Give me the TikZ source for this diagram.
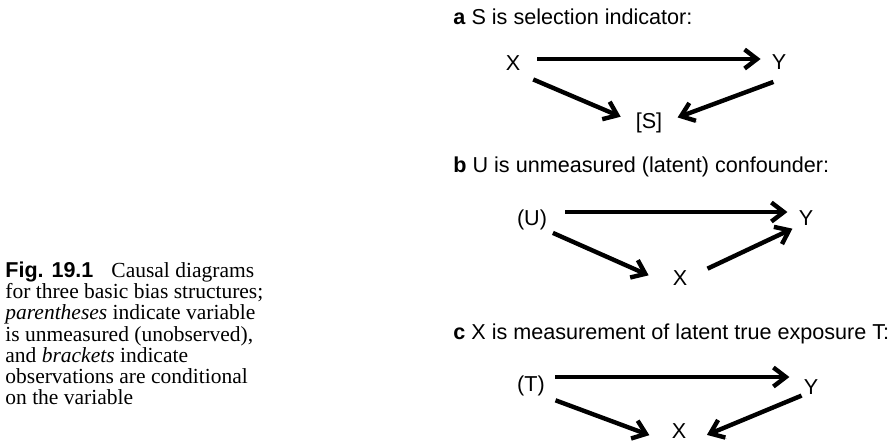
\documentclass[tikz,border=0pt]{standalone}
\usepackage{fontspec}
\setmainfont{Liberation Serif}
\setsansfont{Liberation Sans}
\usepackage{tikz}
\usetikzlibrary{arrows.meta, positioning, calc}

\begin{document}
\begin{tikzpicture}[
    x=0.5pt, y=-0.5pt,
    var/.style={font=\sffamily\fontsize{10.8}{13}\selectfont, inner sep=0pt},
    ttl/.style={font=\sffamily\fontsize{10.8}{13}\selectfont, inner sep=0pt,
                anchor=base west},
    arr/.style={line width=2.2pt, -{Straight Barb[length=6.2pt, width=9.5pt]},
                preaction={draw=black!25, transform canvas={xshift=0.6pt, yshift=-0.6pt}}},
    captxt/.style={font=\fontsize{10.75}{10.6}\selectfont, inner sep=0pt,
                   anchor=north west, align=left}]

\useasboundingbox (0,0) rectangle (893,441);

%% -- Caption ---------------------------------------------------------------
\node[captxt] (caption) at (5,261.5)
    {{\sffamily\bfseries Fig. 19.1}\hspace{9pt}Causal diagrams\\
     for three basic bias structures;\\
     \textit{parentheses} indicate variable\\
     is unmeasured (unobserved),\\
     and \textit{brackets} indicate\\
     observations are conditional\\
     on the variable};

%% -- a: selection ----------------------------------------------------------
\node[ttl] (ttla) at (453,24) {\textbf{a} S is selection indicator:};
\node[var] (xa) at (513,63)  {X};
\node[var] (ya) at (779,62)  {Y};
\node[var] (sa) at (649,123) {[S]};

\draw[arr, shorten <=8.4pt, shorten >=5.4pt]
    ([yshift=2pt]xa.east) -- ([yshift=2pt]xa.east -| ya.west);
\draw[arr, shorten <=11pt, shorten >=8pt] (xa.south) -- (sa.west);
\draw[arr, shorten <=3pt, shorten >=8pt] ([yshift=-5pt]ya.south) -- (sa.east);

%% -- b: latent confounder --------------------------------------------------
\node[ttl] (ttlb) at (453,172) {\textbf{b} U is unmeasured (latent) confounder:};
\node[var] (ub) at (532,220) {(U)};
\node[var] (yb) at (806,218) {Y};
\node[var] (xb) at (680,278) {X};

\draw[arr, shorten <=9pt, shorten >=5.5pt]
    ([yshift=4pt]ub.east) -- ([yshift=4pt]ub.east -| yb.west);
\draw[arr, shorten <=3pt, shorten >=13pt] (ub.south east) -- (xb.south west);
\draw[arr, shorten <=11pt, shorten >=3.3pt] (xb.east) -- (yb.south west);

%% -- c: measured exposure --------------------------------------------------
\node[ttl] (ttlc) at (453,339) {\textbf{c} X is measurement of latent true exposure T:};
\node[var] (tc) at (531,386) {(T)};
\node[var] (yc) at (811,387) {Y};
\node[var] (xc) at (679,431.5) {X};

\draw[arr, shorten <=5pt, shorten >=7pt]
    ([yshift=4.5pt]tc.east) -- ([yshift=4.5pt]tc.east -| yc.west);
\draw[arr, shorten <=5.5pt, shorten >=11.75pt]
    (tc.south east) -- ([yshift=-2pt]xc.south west);
\draw[arr, shorten <=1pt, shorten >=11pt]
    (yc.south west) -- ([yshift=-2pt]xc.south east);

\end{tikzpicture}
\end{document}
